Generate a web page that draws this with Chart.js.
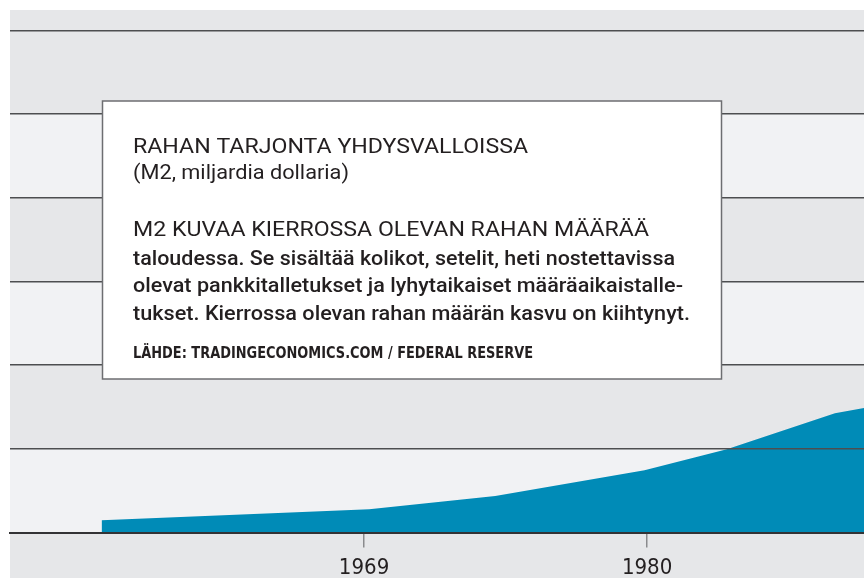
<!DOCTYPE html>
<html>
<head>
<meta charset="utf-8">
<script src="https://cdn.jsdelivr.net/npm/chart.js@4"></script>
<style>
  html, body { margin: 0; padding: 0; background: #ffffff; }
  #wrap { width: 864px; height: 578px; }
</style>
</head>
<body>
<div id="wrap"><canvas id="m2--chart" width="864" height="578"></canvas></div>
<script>
"use strict";

// M2 money supply, billions of dollars
const years = [1958.8, 1969.2, 1974.1, 1979.9, 1983.1, 1987.3, 1989.5];
const m2Values = [294, 557, 875, 1489, 1992, 2851, 3089];

const xTickYears = [1969, 1980];
const gridValues = [0, 2000, 4000, 6000, 8000, 10000, 12000];

const titleLines = ['RAHAN TARJONTA YHDYSVALLOISSA', '(M2, miljardia dollaria)'];
const leadLine = 'M2 KUVAA KIERROSSA OLEVAN RAHAN MÄÄRÄÄ';
const bodyLines = [
    'taloudessa. Se sisältää kolikot, setelit, heti nostettavissa',
    'olevat pankkitalletukset ja lyhytaikaiset määräaikaistalle-',
    'tukset. Kierrossa olevan rahan määrän kasvu on kiihtynyt.'
];
const sourceLine = 'LÄHDE: TRADINGECONOMICS.COM / FEDERAL RESERVE';

const GRAY = '#e6e7e9';
const LIGHT = '#f1f2f4';
const INK = '#231f20';

// draws text squeezed/stretched to a given width
function fitText(ctx, text, x, y, width) {
    const w = ctx.measureText(text).width;
    ctx.save();
    ctx.translate(x, y);
    ctx.scale(width / w, 1);
    ctx.fillText(text, 0, 0);
    ctx.restore();
}

const bandsPlugin = {
    id: 'bands',
    beforeDraw(chart) {
        const { ctx, chartArea, scales } = chart;
        const y = scales.y;
        ctx.save();
        ctx.fillStyle = GRAY;
        ctx.fillRect(chartArea.left, chartArea.top, chartArea.right - chartArea.left, chart.height - chartArea.top);
        ctx.fillStyle = LIGHT;
        for (let i = 0; i < gridValues.length - 1; i += 2) {
            const top = y.getPixelForValue(gridValues[i + 1]);
            const bottom = y.getPixelForValue(gridValues[i]);
            ctx.fillRect(chartArea.left, top, chartArea.right - chartArea.left, bottom - top);
        }
        ctx.restore();
    }
};

const boxPlugin = {
    id: 'infobox',
    afterDraw(chart) {
        const ctx = chart.ctx;
        ctx.save();
        ctx.fillStyle = '#ffffff';
        ctx.fillRect(102, 101, 619, 278);
        ctx.strokeStyle = '#6d6e71';
        ctx.lineWidth = 1.5;
        ctx.strokeRect(102.5, 101, 619, 278);

        ctx.fillStyle = INK;
        ctx.textBaseline = 'alphabetic';
        ctx.textAlign = 'left';

        ctx.font = '400 20px Roboto';
        fitText(ctx, titleLines[0], 133, 152.5, 395);
        fitText(ctx, titleLines[1], 133, 179, 216);
        fitText(ctx, leadLine, 133, 235.5, 516);

        ctx.font = '500 19.5px Roboto';
        const widths = [542, 550, 557];
        bodyLines.forEach((line, i) => {
            fitText(ctx, line, 133, 264.5 + i * 27.5, widths[i]);
        });

        ctx.font = 'bold 15px "DejaVu Sans Condensed"';
        fitText(ctx, sourceLine, 133, 358, 400);
        ctx.restore();
    }
};

const ctx = document.getElementById('m2--chart').getContext('2d');

new Chart(ctx, {
    type: 'line',
    data: {
        datasets: [{
            label: 'M2',
            data: years.map((yr, i) => ({ x: yr, y: m2Values[i] })),
            borderWidth: 0,
            borderColor: 'rgba(0,0,0,0)',
            backgroundColor: '#008bb7',
            fill: 'origin',
            pointRadius: 0,
            tension: 0
        }]
    },
    options: {
        responsive: false,
        animation: false,
        events: [],
        layout: { padding: { left: 10, top: 10, right: 0, bottom: 0 } },
        plugins: {
            legend: { display: false },
            tooltip: { enabled: false }
        },
        scales: {
            x: {
                type: 'linear',
                min: 1955.24,
                max: 1988.43,
                afterBuildTicks: (scale) => {
                    scale.ticks = xTickYears.map(v => ({ value: v }));
                },
                afterFit: (scale) => {
                    scale.height = 45.5;
                },
                border: { display: true, color: '#333335', width: 2, z: 2 },
                grid: {
                    drawOnChartArea: false,
                    drawTicks: true,
                    tickLength: 15,
                    color: '#8a8b8d',
                    lineWidth: 1.5
                },
                ticks: {
                    autoSkip: false,
                    maxRotation: 0,
                    padding: 8,
                    color: INK,
                    font: { family: '"DejaVu Sans Condensed", "DejaVu Sans"', size: 22 },
                    callback: (v) => String(v)
                }
            },
            y: {
                min: 0,
                max: 12485,
                afterBuildTicks: (scale) => {
                    scale.ticks = gridValues.map(v => ({ value: v }));
                },
                border: { display: false },
                grid: {
                    z: 1,
                    drawTicks: false,
                    tickLength: 0,
                    color: '#4d4e50',
                    lineWidth: 1.5
                },
                ticks: { display: false, padding: 0 }
            }
        }
    },
    plugins: [bandsPlugin, boxPlugin]
});
</script>
</body>
</html>
